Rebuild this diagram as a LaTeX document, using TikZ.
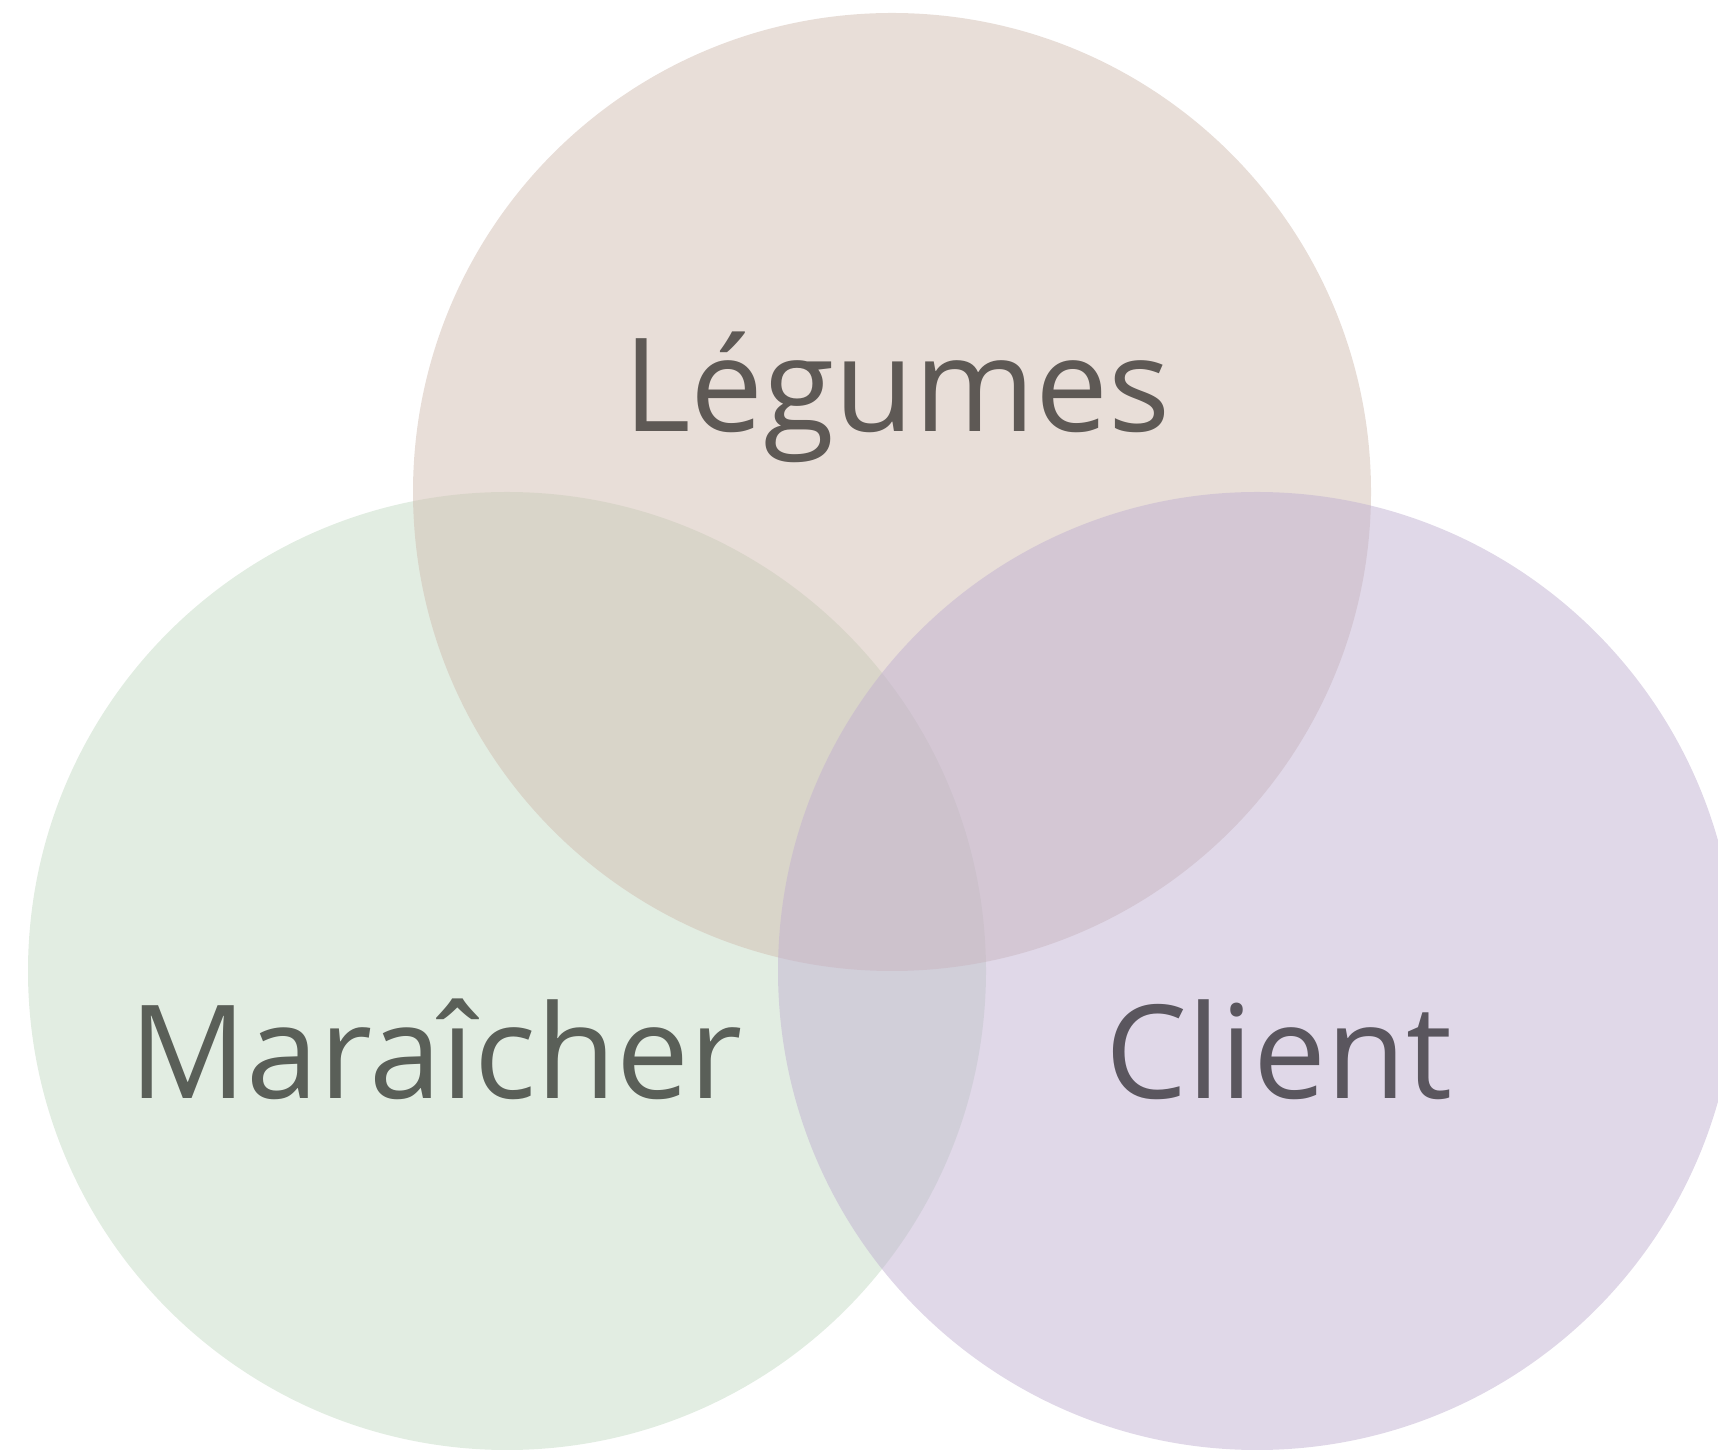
\documentclass[tikz,border=0pt]{standalone}
\usepackage{fontspec}
\setmainfont{Open Sans}
\usepackage{tikz}

\definecolor{legfill}{HTML}{D1BDB1}
\definecolor{marfill}{HTML}{C5DBC5}
\definecolor{clifill}{HTML}{C1B1D1}
\definecolor{legtext}{HTML}{5E5955}
\definecolor{martext}{HTML}{5A5F58}
\definecolor{clitext}{HTML}{5A565E}

\begin{document}
\begin{tikzpicture}[set/.style={fill opacity=0.5},
  setlabel/.style={anchor=base,inner sep=0pt,font=\fontsize{37}{44}\selectfont}]
\useasboundingbox (0,0) rectangle (17.18,14.49);
\clip (0,0) rectangle (17.18,14.49);
\fill[set,marfill] (5.07,4.78) circle (4.79);
\fill[set,legfill] (8.92,9.57) circle (4.79);
\fill[set,clifill] (12.57,4.78) circle (4.79);
\node[setlabel,text=legtext] (legumes) at (8.97,10.17) {Légumes};
\node[setlabel,text=martext] (maraicher) at (4.36,3.51) {Maraîcher};
\node[setlabel,text=clitext] (client) at (12.79,3.51) {Client};
\end{tikzpicture}
\end{document}
